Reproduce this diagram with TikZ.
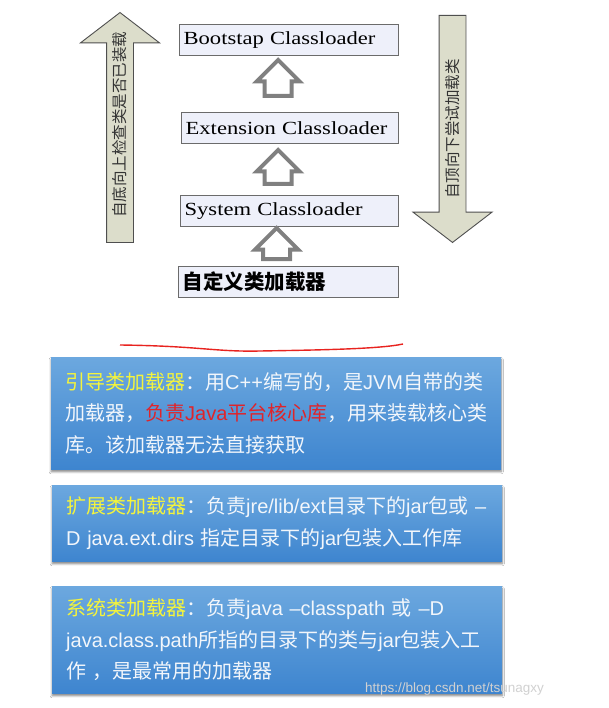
\documentclass[tikz,border=0pt]{standalone}
\usepackage{fontspec}
\setmainfont{Liberation Sans}
\newfontfamily\zhfont{Noto Sans CJK SC}
\newfontfamily\loaderfont[FakeStretch=1.22]{Liberation Serif}
\usepackage{tikz}
\usetikzlibrary{
  positioning, calc, shapes.arrows, shadows.blur
}
\definecolor{loaderFill}{HTML}{EEF0FA}
\definecolor{loaderLine}{HTML}{6B6B6B}
\definecolor{hollowGray}{HTML}{808080}
\definecolor{bigArrowFill}{HTML}{DCDDCB}
\definecolor{bigArrowLine}{HTML}{4F4F4F}
\definecolor{infoTop}{HTML}{6CA8DF}
\definecolor{infoBottom}{HTML}{3E85CF}
\definecolor{infoText}{HTML}{F2F6FB}
\definecolor{infoYellow}{HTML}{F4F43C}
\definecolor{infoRed}{HTML}{E0242A}
\definecolor{curveRed}{HTML}{E8231F}
\newcommand{\la}[1]{{\rmfamily #1}}

\tikzset{
  loaderbox/.style={draw=loaderLine, line width=1.3pt, fill=loaderFill,
    anchor=north west, minimum height=31pt, inner xsep=4pt, inner ysep=2pt,
    align=left, font=\loaderfont\fontsize{18.5}{22}\selectfont},
  hollowup/.style={single arrow, draw=hollowGray, line width=4pt, fill=white,
    minimum width=39pt, single arrow head extend=8pt, inner xsep=0pt,
    inner ysep=11.5pt, rotate=90, anchor=tail},
  bigarrow/.style={single arrow, draw=bigArrowLine, line width=0.9pt,
    fill=bigArrowFill, minimum width=78pt, single arrow head extend=26pt,
    single arrow tip angle=105, inner xsep=0pt, inner ysep=13pt, anchor=tail},
  arrowlabel/.style={rotate=90, text=black!80,
    font=\zhfont\fontsize{15.5}{16}\selectfont},
  infobox/.style={anchor=north west, minimum width=450pt, text width=422pt,
    inner xsep=14pt, align=left, top color=infoTop, bottom color=infoBottom,
    blur shadow={shadow xshift=0pt, shadow yshift=-2.5pt,
      shadow blur steps=6, shadow opacity=50},
    text=infoText, font=\zhfont\fontsize{20}{31.5}\selectfont}
}

\begin{document}
\begin{tikzpicture}[x=1pt, y=-1pt]
    \useasboundingbox (0,0) rectangle (608,708);
    \fill[white] (0,0) rectangle (608,708);
    % side arrows
    \node[bigarrow, rotate=90, minimum height=230pt] (upCheck) at (120,243) {};
    \node[bigarrow, rotate=-90, minimum height=227pt] (downLoad) at (452.5,15) {};
    \node[arrowlabel] (upText) at (120,125) {自底向上检查类是否已装载};
    \node[arrowlabel] (downText) at (452.5,129) {自顶向下尝试加载类};
    % loader chain
    \node[loaderbox, text width=211pt] (boot) at (179,24) {Bootstap Classloader};
    \node[loaderbox, text width=209pt] (ext) at (181,112) {Extension Classloader};
    \node[loaderbox, text width=210pt] (sys) at (180,195) {System Classloader};
    \node[loaderbox, text width=212pt] (custom) at (178,266)
      {{\zhfont\bfseries\fontsize{20.5}{22}\selectfont 自定义类加载器}};
    \node[hollowup, minimum height=36pt] (extUp) at ($(ext.north)+(-12,-14)$) {};
    \node[hollowup, minimum height=34pt] (sysUp) at ($(sys.north)+(-11.5,-9)$) {};
    \node[hollowup, minimum height=31pt] (customUp) at ($(custom.north)+(-12,-5)$) {};
    % red underline
    \draw[curveRed, line width=1.4pt]
      (120,345) .. controls (200,346) and (215,352) .. (260,351)
      .. controls (320,350) and (380,349) .. (403,344);
    % info boxes
    \node[infobox, minimum height=112pt] (bootInfo) at (51,357)
      {{\color{infoYellow}引导类加载器}：用\la{C++}编写的，是\la{JVM}自带的类\\
       加载器，{\color{infoRed}负责\la{Java}平台核心库}，用来装载核心类\\
       库。该加载器无法直接获取};
    \node[infobox, minimum height=76pt] (extInfo) at (52,485)
      {{\color{infoYellow}扩展类加载器}：负责\la{jre/lib/ext}目录下的\la{jar}包或 \la{–}\\
       \la{D java.ext.dirs} 指定目录下的\la{jar}包装入工作库};
    \node[infobox, minimum height=107pt] (sysInfo) at (52,586)
      {{\color{infoYellow}系统类加载器}：负责\la{java –classpath} 或 \la{–D}\\
       \la{java.class.path}所指的目录下的类与\la{jar}包装入工\\
       作 ，是最常用的加载器};
    \node[anchor=west, text=black!18, font=\fontsize{13.5}{15}\selectfont, inner sep=0pt]
      (csdnMark) at (365,689) {https://blog.csdn.net/tsunagxy};
  \end{tikzpicture}
\end{document}
